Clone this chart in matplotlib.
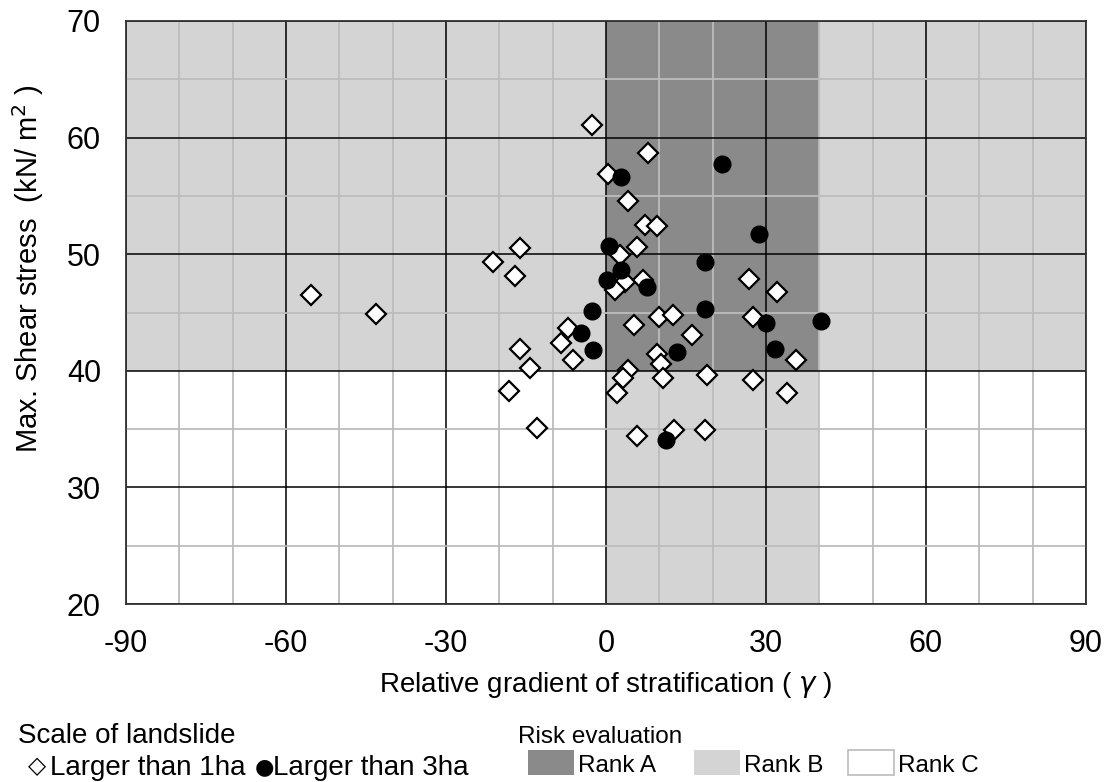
import matplotlib
matplotlib.use("Agg")
import matplotlib.pyplot as plt
from matplotlib.patches import Rectangle

plt.rcParams['font.family'] = ['Liberation Sans', 'DejaVu Sans']
plt.rcParams['axes.unicode_minus'] = False

# landslides larger than 1ha (diamonds)
ha1_x = [-2.7, 7.9, 0.4, 4.2, 7.3, 9.5, 5.9, 2.6, -16.1, -21.1, -17.1, 3.6, 7.0, 1.7,
         26.9, 32.1, 9.9, 12.6, 5.3, 27.6, 16.2, -7.1, -8.5, -16.1, -6.1, -14.3, 9.5,
         10.4, 35.6, 4.2, 3.1, 10.6, 18.9, 27.6, 2.0, 33.9, -18.2, -12.9, 5.8, 12.8,
         18.6, -55.3, -43.2]
ha1_y = [61.1, 58.7, 56.9, 54.6, 52.5, 52.4, 50.6, 49.9, 50.5, 49.3, 48.1, 47.6, 47.8, 46.9,
         47.9, 46.8, 44.6, 44.8, 43.9, 44.6, 43.1, 43.7, 42.4, 41.9, 40.9, 40.2, 41.4,
         40.6, 40.9, 40.1, 39.4, 39.4, 39.6, 39.2, 38.1, 38.1, 38.3, 35.1, 34.4, 34.9,
         34.9, 46.5, 44.9]

# landslides larger than 3ha (black dots)
ha3_x = [2.9, 21.8, 28.6, 0.6, 18.6, 2.9, 0.25, 7.6, 18.6, -2.6, 30.0, 40.25, -4.7,
         13.4, 31.7, -2.4, 11.2]
ha3_y = [56.65, 57.7, 51.7, 50.7, 49.3, 48.65, 47.8, 47.2, 45.3, 45.1, 44.1, 44.3, 43.2,
         41.6, 41.9, 41.8, 34.1]

# risk zones
rank_a_x = (0, 40)
rank_threshold_y = 40
x_range = (-90, 90)
y_range = (20, 70)
col_a = '#8a8a8a'
col_b = '#d4d4d4'
col_c = '#ffffff'

fig = plt.figure(figsize=(11.1, 7.82), dpi=100)
ax = fig.add_axes([126 / 1110, 1 - 604 / 782, 960 / 1110, 583 / 782])

# zone fills
ax.add_patch(Rectangle((x_range[0], rank_threshold_y), x_range[1] - x_range[0],
                       y_range[1] - rank_threshold_y, facecolor=col_b, edgecolor='none', zorder=0.1))
ax.add_patch(Rectangle((rank_a_x[0], y_range[0]), rank_a_x[1] - rank_a_x[0],
                       rank_threshold_y - y_range[0], facecolor=col_b, edgecolor='none', zorder=0.1))
ax.add_patch(Rectangle((rank_a_x[0], rank_threshold_y), rank_a_x[1] - rank_a_x[0],
                       y_range[1] - rank_threshold_y, facecolor=col_a, edgecolor='none', zorder=0.1))

ax.set_xlim(*x_range)
ax.set_ylim(*y_range)
ax.set_xticks(range(-90, 91, 30))
ax.set_xticks(range(-90, 91, 10), minor=True)
ax.set_yticks(range(20, 71, 10))
ax.set_yticks(range(20, 71, 5), minor=True)
ax.set_axisbelow(True)
ax.grid(which='minor', color='#bcbcbc', lw=1.3, zorder=0.3)
ax.grid(which='major', color='black', lw=1.1, zorder=0.4)
ax.tick_params(which='both', length=0, labelsize=22)
ax.tick_params(axis='x', pad=18)
ax.tick_params(axis='y', pad=18)
for s in ax.spines.values():
    s.set_color('#333333')
    s.set_linewidth(1.3)

ax.plot(ha1_x, ha1_y, 'D', ms=10, mfc='white', mec='black', mew=1.6, zorder=3)
ax.plot(ha3_x, ha3_y, 'o', ms=12, mfc='black', mec='black', zorder=4)

ax.set_xlabel('Relative gradient of stratification ( $\\gamma$ )', fontsize=20)
ax.xaxis.set_label_coords(0.5, -(685 - 604) / 583, transform=ax.transAxes)
ax.xaxis.label.set_va('center')
ax.set_ylabel('Max. Shear stress  (kN/ m$^{2}$ )', fontsize=21)
ax.yaxis.set_label_coords(-(126 - 28) / 960, (604 - 269) / 583)
ax.yaxis.label.set_va('center')

# legend, drawn by hand under the axes
def fx(px):
    return px / 1110

def fy(py):
    return 1 - py / 782

fig.text(fx(18), fy(743), 'Scale of landslide', fontsize=20, va='baseline')
fig.text(fx(28), fy(773), '\u25c7', fontsize=17, family='DejaVu Sans', va='baseline')
fig.text(fx(50), fy(775), 'Larger than 1ha', fontsize=20, va='baseline')
fig.text(fx(255), fy(773), '\u25cf', fontsize=16, family='DejaVu Sans', va='baseline')
fig.text(fx(273), fy(775), 'Larger than 3ha', fontsize=20, va='baseline')
fig.text(fx(518), fy(743), 'Risk evaluation', fontsize=17.5, va='baseline')

boxes = [(528, col_a, 'none', 'Rank A'), (694, col_b, 'none', 'Rank B'), (848, col_c, '#bbbbbb', 'Rank C')]
for bx, fc, ec, lab in boxes:
    fig.add_artist(Rectangle((fx(bx), fy(775)), 46 / 1110, 25 / 782, facecolor=fc,
                             edgecolor=ec, lw=1.2, transform=fig.transFigure))
    fig.text(fx(bx + 50), fy(772), lab, fontsize=17.5, va='baseline')

fig.savefig('out.png', dpi=100)
